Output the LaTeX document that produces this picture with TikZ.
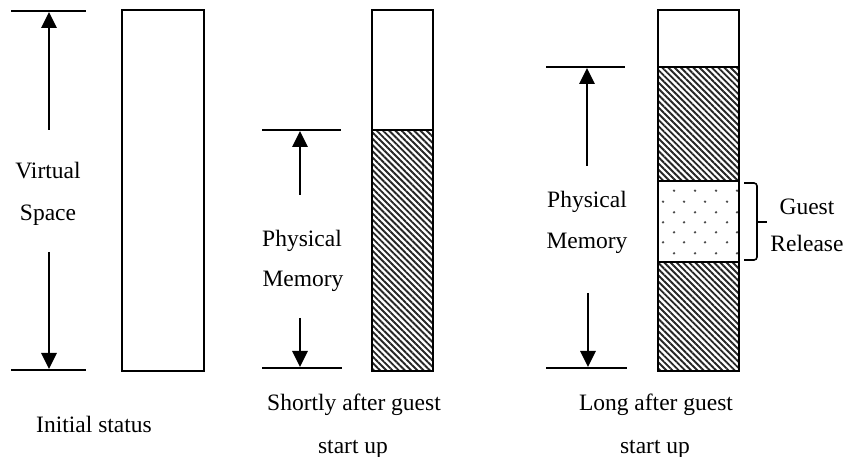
\documentclass[tikz,border=0pt]{standalone}
\usepackage{fontspec}
\setmainfont{Liberation Serif}
\usetikzlibrary{arrows.meta,patterns.meta}
\tikzset{
  box/.style={draw=black,line width=2pt},
  hatch/.style={pattern={Lines[angle=-45,distance=4.4pt,line width=1.9pt]},pattern color=black!85},
  tick/.style={draw=black,line width=1.6pt},
  dim/.style={draw=black,line width=2.8pt,-{Triangle[length=16pt,width=15pt]}},
  lbl/.style={anchor=base,font=\fontsize{23.5}{28}\selectfont,inner sep=0pt},
  dot/.style={fill=black!70,draw=none}
}
\begin{document}
\begin{tikzpicture}[x=1pt,y=-1pt]
\useasboundingbox[fill=white] (0,0) rectangle (847,457);

% ---------- Initial status ----------
\coordinate (a1l) at (11,11);  \coordinate (a1r) at (86,11);
\coordinate (a2l) at (11,370); \coordinate (a2r) at (86,370);
\path[tick] (a1l) -- (a1r);
\path[tick] (a2l) -- (a2r);
\coordinate (aut) at (49,130); \coordinate (auh) at (49,12);
\coordinate (adt) at (49,252); \coordinate (adh) at (49,369);
\path[dim] (aut) -- (auh);
\path[dim] (adt) -- (adh);
\node[lbl] (virt) at (48,179) {Virtual};
\node[lbl] (space) at (48,221) {Space};
\node[box,minimum width=82pt,minimum height=361pt,inner sep=0pt,anchor=north west] (ra) at (121,9) {};
\node[lbl] (init) at (94,432) {Initial status};

% ---------- Shortly after ----------
\path[hatch] (371,130) rectangle (432,370);
\node[box,minimum width=61pt,minimum height=361pt,inner sep=0pt,anchor=north west] (rb) at (371,9) {};
\draw[line width=2pt] (rb.west |- 0,130) -- (rb.east |- 0,130);
\coordinate (b1l) at (262,130); \coordinate (b1r) at (341,130);
\coordinate (b2l) at (262,368); \coordinate (b2r) at (342,368);
\path[tick] (b1l) -- (b1r);
\path[tick] (b2l) -- (b2r);
\coordinate (but) at (300,195); \coordinate (buh) at (300,131);
\coordinate (bdt) at (300,318); \coordinate (bdh) at (300,367);
\path[dim] (but) -- (buh);
\path[dim] (bdt) -- (bdh);
\node[lbl] (bphys) at (302,247) {Physical};
\node[lbl] (bmem) at (303,287) {Memory};
\node[lbl] (bcap1) at (354,410) {Shortly after guest};
\node[lbl] (bcap2) at (353,453) {start up};

% ---------- Long after ----------
\path[hatch] (657,67) rectangle (738,181);
\path[hatch] (657,262) rectangle (738,370);
\begin{scope}
\clip (657,181) rectangle (738,262);
\foreach \yy in {190.7,212.3,232.3,253.3}{
  \foreach \xx in {674,695,716,737}{\fill[dot] (\xx,\yy) circle (1.3pt);}}
\foreach \yy in {201.7,222.3,242.3}{
  \foreach \xx in {663,684,705,727}{\fill[dot] (\xx,\yy) circle (1.3pt);}}
\end{scope}
\node[box,minimum width=81pt,minimum height=361pt,inner sep=0pt,anchor=north west] (rc) at (657,9) {};
\draw[line width=2pt] (rc.west |- 0,67) -- (rc.east |- 0,67);
\draw[line width=2pt] (rc.west |- 0,181) -- (rc.east |- 0,181);
\draw[line width=2pt] (rc.west |- 0,262) -- (rc.east |- 0,262);
\coordinate (c1l) at (546,67); \coordinate (c1r) at (625,67);
\coordinate (c2l) at (546,368); \coordinate (c2r) at (627,368);
\path[tick] (c1l) -- (c1r);
\path[tick] (c2l) -- (c2r);
\coordinate (cut) at (587,166); \coordinate (cuh) at (587,68);
\coordinate (cdt) at (588,293); \coordinate (cdh) at (588,367);
\path[dim] (cut) -- (cuh);
\path[dim] (cdt) -- (cdh);
\node[lbl] (cphys) at (587,208) {Physical};
\node[lbl] (cmem) at (587,249) {Memory};
\node[lbl] (ccap1) at (656,410) {Long after guest};
\node[lbl] (ccap2) at (655,453) {start up};

% brace
\draw[line width=1.6pt,rounded corners=3pt] (744,183) -- (757,183) -- (757,260) -- (744,260);
\coordinate (bt1) at (757,222); \coordinate (bt2) at (767,222);
\draw[line width=1.6pt] (bt1) -- (bt2);
\node[lbl] (guest) at (807,215) {Guest};
\node[lbl] (rel) at (807,252) {Release};
\end{tikzpicture}
\end{document}
